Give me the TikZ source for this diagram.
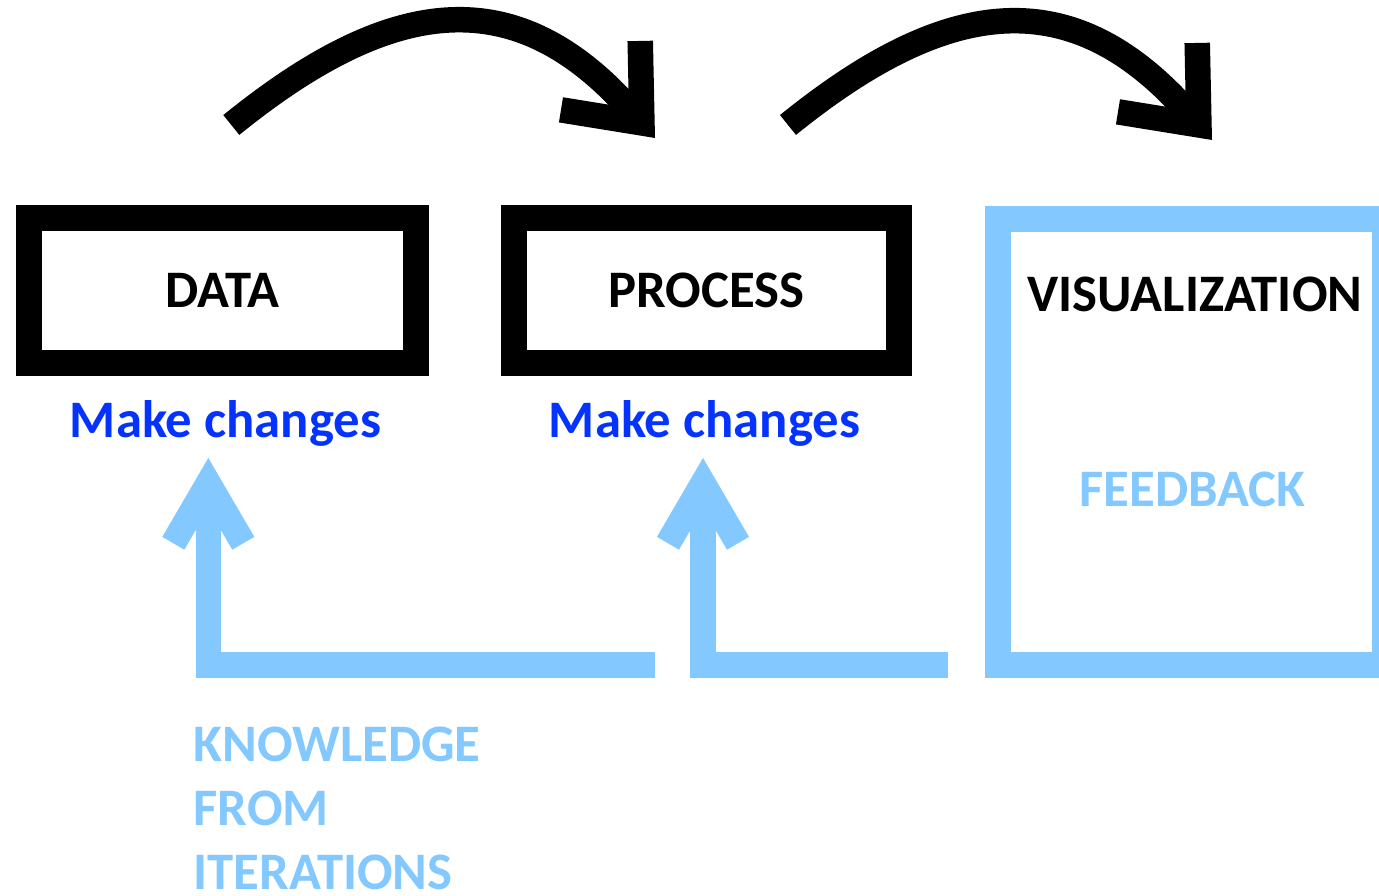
\documentclass[tikz,border=0pt]{standalone}
\usepackage{fontspec}
\setmainfont{Carlito}
\usetikzlibrary{arrows.meta,positioning}
\definecolor{skyblue}{RGB}{131,201,255}
\definecolor{changeblue}{RGB}{4,51,255}

\begin{document}
\begin{tikzpicture}[
  box/.style   = {
    draw, line width=\lw,
    minimum width=\boxw,
    minimum height=\boxh,
    inner sep=0pt,
    font=\bfseries\fontsize{15}{18}\selectfont
  },
  note/.style  = {inner sep=0pt, anchor=base, font=\bfseries\fontsize{15}{18.3}\selectfont},
  flow/.style  = {line width=\lw, -{Straight Barb[length=6.3mm,width=10.5mm]}},
  fback/.style = {line width=\lw, draw=skyblue, -{Straight Barb[length=6mm,width=7mm]}}
]

% ---- constants ----
\def\lw{2.55mm}      % stroke of boxes and arrows
\def\boxw{38.7mm}    % box width
\def\boxh{14.5mm}    % box height

\useasboundingbox (0,0) rectangle (13.79,8.96);

% ---- boxes ----
\node[box] (data) at (2.225,6.055) {DATA};
\node[box, minimum width=38.5mm] (proc) at (7.065,6.055) {PROCESS};
\node[box, draw=skyblue, minimum height=44.6mm] (viz) at (11.915,4.54) {};

% ---- texts ----
\node[note] (viztitle) at (11.95,5.84) {VISUALIZATION};
\node[note, text=skyblue] (feed) at (11.925,3.89) {FEEDBACK};
\node[note, text=changeblue] (mk1) at (2.255,4.58) {Make changes};
\node[note, text=changeblue] (mk2) at (7.045,4.58) {Make changes};
\node[note, text=skyblue, anchor=north west, align=left] (know) at (1.93,1.70)
  {KNOWLEDGE\\FROM\\ITERATIONS};

% ---- forward arrows ----
\coordinate (a1s) at (2.313,7.71);
\coordinate (a1e) at (6.55,7.58);
\coordinate (a2s) at (7.88,7.71);
\coordinate (a2e) at (12.12,7.56);

\draw[flow] (a1s) to[out=39,in=131,looseness=1.26] (a1e);
\draw[flow] (a2s) to[out=39,in=131,looseness=1.26] (a2e);

% ---- feedback arrows ----
\coordinate (fb1s) at (6.55,2.31);
\coordinate (tip1) at (2.083,4.38);
\coordinate (fb2s) at (9.48,2.31);
\coordinate (tip2) at (7.03,4.38);

\draw[fback] (fb1s) -| (tip1);
\draw[fback] (fb2s) -| (tip2);

\end{tikzpicture}
\end{document}
